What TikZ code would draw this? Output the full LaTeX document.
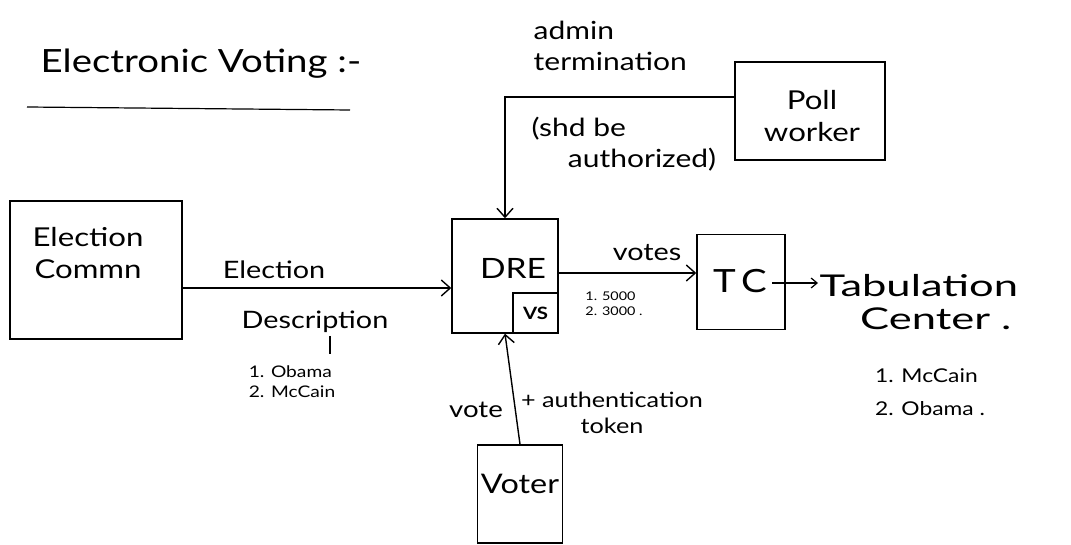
\documentclass[tikz,border=0pt]{standalone}
\usepackage{fontspec}
\setmainfont{Lato}[FakeStretch=1.2]
\newfontfamily\widefont{Lato}[FakeStretch=1.45]
\usetikzlibrary{arrows.meta}
\newcommand{\fs}[1]{\fontsize{#1}{1.25\dimexpr#1pt\relax}\selectfont}
\begin{document}
\begin{tikzpicture}[x=1pt,y=-1pt,line width=1.4pt,
  box/.style={draw,rectangle,inner sep=0pt},
  lbl/.style={inner sep=1pt,align=left},
  arr/.style={-{Straight Barb[length=9pt,width=16pt,line width=1.4pt]}}]
\useasboundingbox (0,0) rectangle (1071,545);
% title
\node[inner sep=0pt,anchor=west,font=\fs{32}] (title) at (40,64) {Electronic Voting :-};
\draw[line width=1.2pt] (27,107) coordinate (ul1) -- (350,110) coordinate (ul2);
% boxes
\node[box,minimum width=172pt,minimum height=138pt] (ec) at (96,270) {};
\node[lbl,align=center,font=\fs{26}] (ect) at (88,253) {Election\\Commn};
\node[box,minimum width=106pt,minimum height=114pt] (dre) at (505,276) {};
\node[lbl,font=\fs{28}] (dret) at (513,268) {DRE};
\node[box,minimum width=45pt,minimum height=40pt,anchor=south east,font=\fs{17}\bfseries] (vs) at (dre.south east) {VS};
\node[box,minimum width=150pt,minimum height=98pt] (pw) at (810,111) {};
\node[lbl,align=center,font=\fs{26}] (pwt) at (812,116) {Poll\\worker};
\node[box,minimum width=88pt,minimum height=95pt] (tc) at (741,282) {};
\node[lbl,font=\fs{32}] (tct) at (740,281) {T\,C};
\node[box,minimum width=85pt,minimum height=98pt] (voter) at (520,494) {};
\node[lbl,font=\fs{27}] (votert) at (520,484) {Voter};
% labels
\node[lbl,font=\fs{24}] (elab) at (274,270) {Election};
\node[lbl,font=\fs{24}] (dlab) at (315,322) {Description};
\node[lbl,font=\fs{16}] (olist) at (292,382) {1. Obama\\2. McCain};
\draw[line width=1.1pt] (330,336) coordinate (p1) -- (330,354) coordinate (p2);
\node[lbl,anchor=west,font=\fs{25}] (adm) at (532,46) {admin\\termination};
\node[lbl,anchor=west,font=\fs{25}] (shd) at (530,144) {(shd be\\\hspace*{1.45em}authorized)};
\node[lbl,font=\fs{24}] (votes) at (647,253) {votes};
\node[lbl,font=\fs{12}] (counts) at (614,304) {1. 5000\\2. 3000 .};
\node[lbl,anchor=west,font=\widefont\fontsize{30}{33}\selectfont] (tab) at (818,302) {Tabulation\\\hspace*{1.35em}Center .};
\node[lbl,font=\fs{19},align=left] (tlist) at (930,392) {1. McCain\\[9pt]2. Obama .};
\node[lbl,font=\fs{23}] (vote) at (476,410) {vote};
\node[lbl,font=\fs{21},align=center] (auth) at (612,413) {+ authentication\\token};
% connectors
\draw[arr] (ec.east |- 0,288) -- (dre.west |- 0,288);
\draw[arr] (pw.west |- 0,97) -| (dre.north);
\draw[arr] (voter.north) -- (dre.south);
\draw[arr] (dre.east |- 0,273) -- (tc.west |- 0,273);
\coordinate (tcout) at (772,283);
\draw[-{Straight Barb[length=6pt,width=10pt,line width=1.2pt]},line width=1.2pt] (tcout) -- (tab.west |- tcout);
\end{tikzpicture}
\end{document}
